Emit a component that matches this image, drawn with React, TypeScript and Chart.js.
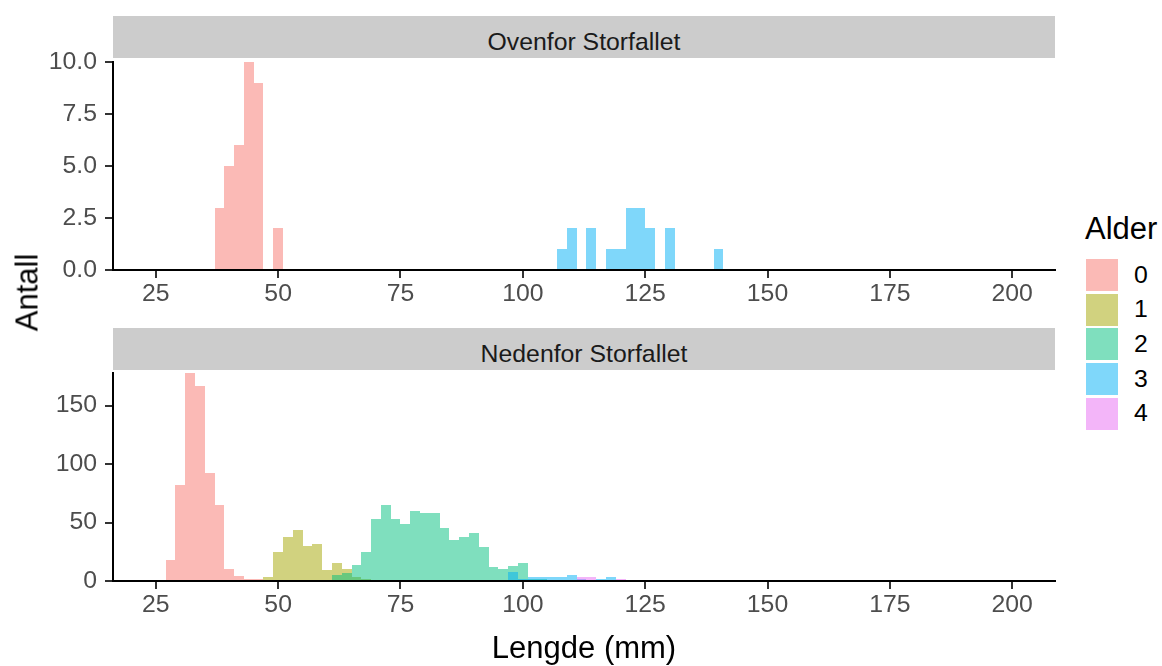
import React, { useEffect, useRef } from "react";
import { Chart, registerables } from "chart.js";

Chart.register(...registerables);

const FONT = "'Liberation Sans', Arial, Helvetica, sans-serif";

// ---- labels / text ----
const ageLabels = ["0", "1", "2", "3", "4"];
const ageColors = [
  "rgba(248,118,109,0.5)",
  "rgba(163,165,0,0.5)",
  "rgba(0,191,125,0.5)",
  "rgba(0,176,246,0.5)",
  "rgba(231,107,243,0.5)",
];
const legendTitle = "Alder";
const yTitle = "Antall";
const xTitle = "Lengde (mm)";
const panelTitles = ["Ovenfor Storfallet", "Nedenfor Storfallet"];

// ---- axes ----
const xLimits = [25, 200];
const xExpand = 0.05;
const xTickValues = [25, 50, 75, 100, 125, 150, 175, 200];
const upperYTickValues = [0, 2.5, 5, 7.5, 10];
const lowerYTickValues = [0, 50, 100, 150];

// ---- data: bin midpoints (mm, bin width 2) and counts ----
// Ovenfor Storfallet
const upperAge0Mids = [38, 40, 42, 44, 46, 50];
const upperAge0Counts = [3, 5, 6, 10, 9, 2];
const upperAge3Mids = [108, 110, 114, 118, 120, 122, 124, 126, 130, 140];
const upperAge3Counts = [1, 2, 2, 1, 1, 3, 3, 2, 2, 1];

// Nedenfor Storfallet
const lowerAge0Mids = [28, 30, 32, 34, 36, 38, 40, 42, 44, 46];
const lowerAge0Counts = [18, 82, 178, 167, 92, 65, 10, 4, 2, 2];
const lowerAge1Mids = [48, 50, 52, 54, 56, 58, 60, 62, 64, 66, 68, 70];
const lowerAge1Counts = [3, 25, 38, 44, 30, 32, 9, 15, 10, 3, 2, 1];
const lowerAge2Mids = [62, 64, 66, 68, 70, 72, 74, 76, 78, 80, 82, 84, 86, 88, 90, 92, 94, 96, 98, 100, 102, 104, 106];
const lowerAge2Counts = [5, 7, 14, 25, 53, 65, 53, 49, 60, 58, 58, 45, 35, 38, 41, 29, 12, 10, 13, 15, 2, 2, 1];
const lowerAge3Mids = [96, 98, 100, 102, 104, 106, 108, 110, 112, 114, 116, 118, 120];
const lowerAge3Counts = [1, 8, 2, 3, 3, 3, 3, 5, 2, 1, 2, 3, 1];
const lowerAge4Mids = [112, 114, 120];
const lowerAge4Counts = [3, 3, 2];

type Series = { age: number; mids: number[]; counts: number[] };

const upperSeries: Series[] = [
  { age: 0, mids: upperAge0Mids, counts: upperAge0Counts },
  { age: 3, mids: upperAge3Mids, counts: upperAge3Counts },
];
const lowerSeries: Series[] = [
  { age: 0, mids: lowerAge0Mids, counts: lowerAge0Counts },
  { age: 1, mids: lowerAge1Mids, counts: lowerAge1Counts },
  { age: 2, mids: lowerAge2Mids, counts: lowerAge2Counts },
  { age: 3, mids: lowerAge3Mids, counts: lowerAge3Counts },
  { age: 4, mids: lowerAge4Mids, counts: lowerAge4Counts },
];

const CANVAS_W = 1070;
const PLOT_LEFT = 113;
const PLOT_RIGHT_PAD = 15;

// snap bar edges to whole pixels so adjacent translucent bars show no seams
const snapBars = {
  id: "snapBars",
  beforeDatasetsDraw(chart: any) {
    chart.getSortedVisibleDatasetMetas().forEach((meta: any) => {
      meta.data.forEach((el: any) => {
        const l = Math.round(el.x - el.width / 2);
        const r = Math.round(el.x + el.width / 2);
        el.x = (l + r) / 2;
        el.width = r - l;
        el.y = Math.round(el.y);
      });
    });
  },
};

type PanelProps = {
  series: Series[];
  yTicks: number[];
  yDecimals: number;
  showXTitle: boolean;
  top: number;
  height: number;
  padTop: number;
  xAxisHeight: number;
};

function HistPanel({ series, yTicks, yDecimals, showXTitle, top, height, padTop, xAxisHeight }: PanelProps) {
  const ref = useRef<HTMLCanvasElement>(null);
  useEffect(() => {
    const span = xLimits[1] - xLimits[0];
    const chart = new Chart(ref.current as HTMLCanvasElement, {
      type: "bar",
      data: {
        datasets: series.map((s) => ({
          label: ageLabels[s.age],
          data: s.mids.map((m, i) => ({ x: m, y: s.counts[i] })),
          backgroundColor: ageColors[s.age],
          borderWidth: 0,
          grouped: false,
          barPercentage: 1,
          categoryPercentage: 1,
          inflateAmount: 0,
          order: -s.age,
        })) as any,
      },
      plugins: [snapBars],
      options: {
        animation: false,
        responsive: false,
        maintainAspectRatio: false,
        layout: { padding: { top: padTop, right: PLOT_RIGHT_PAD, left: 0, bottom: 0 } },
        plugins: {
          legend: { display: false },
          tooltip: { enabled: false },
          title: { display: false },
        },
        scales: {
          x: {
            type: "linear",
            offset: false,
            min: xLimits[0] - span * xExpand,
            max: xLimits[1] + span * xExpand,
            afterBuildTicks: (s: any) => {
              s.ticks = xTickValues.map((v) => ({ value: v }));
            },
            afterFit: (s: any) => {
              s.height = xAxisHeight;
            },
            grid: {
              display: true,
              offset: false,
              drawOnChartArea: false,
              drawTicks: true,
              tickLength: 8,
              color: "#333333",
              lineWidth: 2,
            },
            border: { display: true, color: "#000000", width: 2 },
            ticks: {
              color: "#4D4D4D",
              font: { family: FONT, size: 24.8 },
              padding: 1,
              maxRotation: 0,
              autoSkip: false,
              callback: (v: any) => String(v),
            },
            title: {
              display: showXTitle,
              text: xTitle,
              color: "#000000",
              font: { family: FONT, size: 31 },
              padding: { top: 0, bottom: -2 },
            },
          },
          y: {
            type: "linear",
            min: 0,
            bounds: "data",
            afterBuildTicks: (s: any) => {
              s.ticks = yTicks.map((v) => ({ value: v }));
            },
            afterFit: (s: any) => {
              s.width = PLOT_LEFT;
            },
            grid: {
              display: true,
              drawOnChartArea: false,
              drawTicks: true,
              tickLength: 8,
              color: "#333333",
              lineWidth: 2,
            },
            border: { display: true, color: "#000000", width: 2 },
            ticks: {
              color: "#4D4D4D",
              font: { family: FONT, size: 24.8 },
              padding: 8,
              autoSkip: false,
              callback: (v: any) => Number(v).toFixed(yDecimals),
            },
          },
        },
      } as any,
    });
    return () => chart.destroy();
  }, []);
  return (
    <canvas
      ref={ref}
      width={CANVAS_W}
      height={height}
      style={{ position: "absolute", left: 0, top, width: CANVAS_W, height }}
    />
  );
}

const stripStyle: React.CSSProperties = {
  position: "absolute",
  left: PLOT_LEFT,
  width: 1055 - PLOT_LEFT,
  height: 42,
  background: "#CCCCCC",
};

const stripTextStyle: React.CSSProperties = {
  position: "absolute",
  left: PLOT_LEFT,
  width: 1055 - PLOT_LEFT,
  textAlign: "center",
  fontFamily: FONT,
  fontSize: 24.8,
  lineHeight: "24.8px",
  color: "#1A1A1A",
  whiteSpace: "nowrap",
};

export default function App() {
  return (
    <div
      style={{
        position: "fixed",
        left: 0,
        top: 0,
        width: 1162,
        height: 666,
        background: "#FFFFFF",
        overflow: "hidden",
      }}
    >
      {/* strips */}
      <div style={{ ...stripStyle, top: 16 }} />
      <div style={{ ...stripStyle, top: 328 }} />
      <div style={{ ...stripTextStyle, top: 29.6 }}>{panelTitles[0]}</div>
      <div style={{ ...stripTextStyle, top: 341.6 }}>{panelTitles[1]}</div>

      <HistPanel
        series={upperSeries}
        yTicks={upperYTickValues}
        yDecimals={1}
        showXTitle={false}
        top={39}
        height={271}
        padTop={20}
        xAxisHeight={40}
      />
      <HistPanel
        series={lowerSeries}
        yTicks={lowerYTickValues}
        yDecimals={0}
        showXTitle={true}
        top={350}
        height={316}
        padTop={20}
        xAxisHeight={85}
      />

      {/* y axis title */}
      <div
        style={{
          position: "absolute",
          left: 27 - 100,
          top: 292 - 15.5,
          width: 200,
          height: 31,
          lineHeight: "31px",
          fontFamily: FONT,
          fontSize: 31,
          color: "#000000",
          textAlign: "center",
          transform: "rotate(-90deg)",
          whiteSpace: "nowrap",
        }}
      >
        {yTitle}
      </div>

      {/* legend */}
      <div
        style={{
          position: "absolute",
          left: 1085,
          top: 213,
          fontFamily: FONT,
          fontSize: 31,
          lineHeight: "31px",
          color: "#000000",
          whiteSpace: "nowrap",
        }}
      >
        {legendTitle}
      </div>
      {ageLabels.map((lab, i) => (
        <React.Fragment key={lab}>
          <div
            style={{
              position: "absolute",
              left: 1086,
              top: 259 + i * 34.7,
              width: 32,
              height: 32,
              background: ageColors[i],
            }}
          />
          <div
            style={{
              position: "absolute",
              left: 1134,
              top: 259 + i * 34.7 + 16 - 12.4,
              fontFamily: FONT,
              fontSize: 24.8,
              lineHeight: "24.8px",
              color: "#000000",
            }}
          >
            {lab}
          </div>
        </React.Fragment>
      ))}
    </div>
  );
}
